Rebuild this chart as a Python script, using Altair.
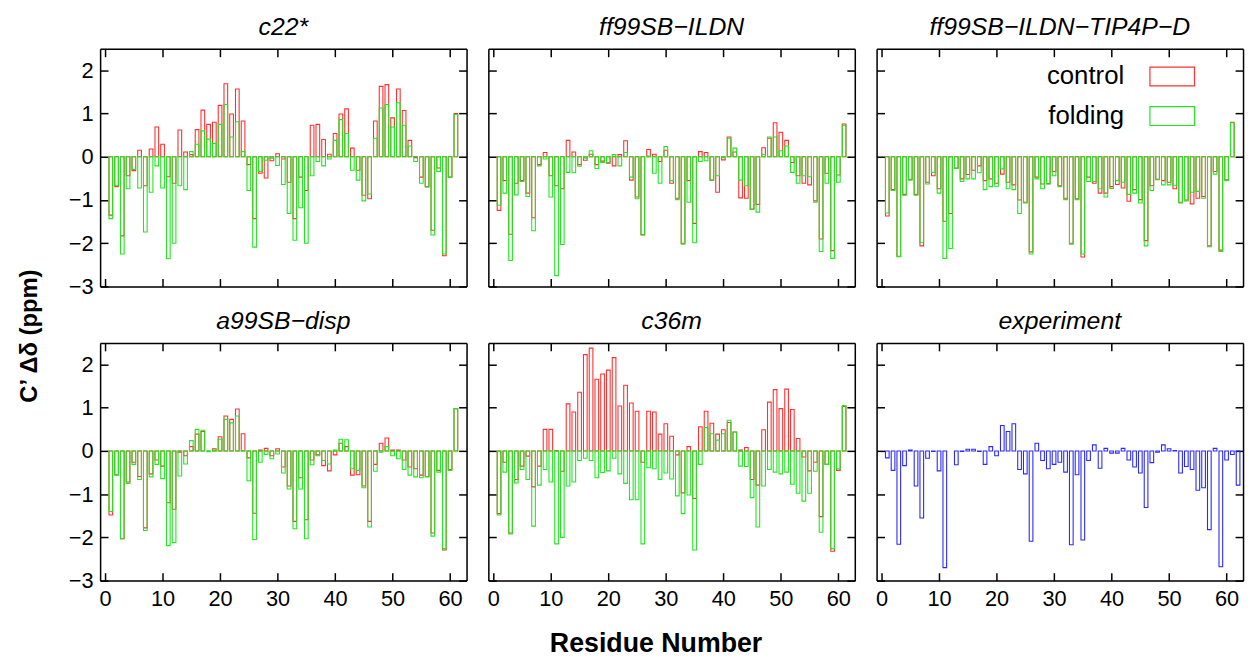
import altair as alt
import pandas as pd

FONT = "Liberation Sans"
RED = "#ff3030"
GREEN = "#22e622"
BLUE = "#2a2aff"

residues = list(range(1, 62))
exp_residues = list(range(1, 63))
x_ticks = [0, 10, 20, 30, 40, 50, 60]
y_ticks = [-3, -2, -1, 0, 1, 2]
series_names = ["control", "folding"]
panel_titles = ["c22*", "ff99SB\u2212ILDN", "ff99SB\u2212ILDN\u2212TIP4P\u2212D",
                "a99SB\u2212disp", "c36m", "experiment"]

c22_control = [-1.35, -0.69, -1.83, -0.44, -0.32, 0.15, -0.67, 0.18, 0.69, 0.29,
               -0.46, -0.61, 0.62, 0.11, 0.05, 0.63, 1.08, 0.75, 0.80, 1.19,
               1.69, 0.99, 1.57, 0.83, -0.18, -1.43, -0.38, -0.49, -0.09, 0.07,
               -0.05, -0.59, -1.43, -0.47, -0.78, 0.73, 0.75, 0.40, 0.06, 0.54,
               0.99, 1.11, 0.20, -0.31, -0.89, -0.97, 0.83, 1.63, 1.67, 0.90,
               1.57, 1.07, 0.38, -0.02, -0.47, -0.69, -1.70, -0.26, -2.29, -0.47, 1.00]
c22_folding = [-1.43, -0.67, -2.25, -0.74, -0.29, -0.72, -1.74, -0.82, -0.21, -0.72,
               -2.36, -2.00, -0.67, -0.76, 0.12, 0.29, 0.60, 0.41, 0.31, 0.75,
               1.21, 0.46, 0.81, 0.12, -0.78, -2.09, -0.34, -0.08, -0.03, -0.20,
               -0.64, -1.31, -1.93, -1.18, -2.00, -0.44, -0.11, -0.21, -0.05, 0.38,
               0.86, 0.54, -0.31, -0.54, -1.02, -0.86, 0.43, 1.13, 1.21, 0.69,
               1.25, 0.73, 0.25, -0.11, -0.61, -0.70, -1.81, -0.34, -2.25, -0.47, 0.98]

ff99_control = [-1.24, -0.55, -1.79, -0.61, -0.55, -0.84, -1.41, -0.18, 0.10, -0.44,
                -0.67, -0.74, 0.38, 0.11, -0.18, -0.08, 0.06, -0.18, -0.10, -0.15,
                -0.21, 0.05, 0.37, -0.54, -0.93, -1.80, 0.17, 0.06, -0.11, 0.15,
                -0.61, -0.96, -2.00, -0.55, -1.54, 0.12, 0.10, -0.54, -0.82, -0.07,
                0.46, 0.11, -0.95, -0.96, -1.21, -1.10, 0.21, 0.43, 0.79, 0.57,
                0.38, -0.13, -0.44, -0.61, -0.65, -1.02, -1.90, -0.38, -2.17, -0.42, 0.76]
ff99_folding = [-1.12, -0.84, -2.40, -0.88, -0.57, -0.92, -1.71, -0.21, -0.05, -0.93,
                -2.75, -2.03, -0.36, -0.37, -0.22, -0.03, 0.14, -0.27, -0.13, -0.13,
                0.05, -0.21, 0.10, -0.47, -0.97, -1.81, 0.02, -0.38, -0.61, 0.24,
                -0.55, -0.99, -2.02, -1.05, -1.99, -0.11, -0.09, -0.54, -0.44, -0.02,
                0.43, 0.20, -0.54, -0.67, -1.22, -1.28, 0.06, 0.46, 0.46, 0.14,
                0.25, -0.36, -0.61, -0.44, -0.46, -1.05, -2.19, -0.61, -2.35, -0.59, 0.73]

tip4p_control = [-1.37, -0.76, -2.30, -0.87, -0.52, -0.87, -2.06, -0.59, -0.44, -0.74,
                 -1.49, -1.31, -0.26, -0.51, -0.41, -0.31, -0.21, -0.55, -0.51, -0.61,
                 -0.40, -0.59, -0.65, -1.00, -1.05, -2.20, -0.47, -0.63, -0.62, -0.34,
                 -0.67, -0.96, -2.00, -0.97, -2.32, -0.47, -0.61, -0.84, -0.84, -0.69,
                 -0.64, -0.72, -1.03, -0.76, -0.99, -1.94, -0.67, -0.52, -0.55, -0.59,
                 -0.74, -1.05, -1.00, -1.09, -0.96, -0.92, -2.06, -0.34, -2.16, -0.53, 0.80]
tip4p_folding = [-1.30, -0.78, -2.31, -0.89, -0.54, -0.89, -1.99, -0.63, -0.36, -0.84,
                 -2.35, -2.12, -0.27, -0.57, -0.51, -0.51, -0.37, -0.76, -0.69, -0.68,
                 -0.28, -0.74, -0.76, -1.31, -1.07, -2.25, -0.51, -0.74, -0.63, -0.44,
                 -0.69, -0.99, -2.02, -0.99, -2.25, -0.57, -0.57, -0.74, -0.93, -0.73,
                 -0.55, -0.59, -0.87, -0.84, -1.07, -2.06, -0.78, -0.53, -0.65, -0.65,
                 -0.67, -1.07, -1.02, -0.82, -0.80, -0.96, -2.08, -0.40, -2.19, -0.55, 0.79]

a99_control = [-1.48, -0.55, -2.03, -0.72, -0.26, -0.59, -1.78, -0.53, -0.21, -0.35,
               -1.20, -1.35, -0.03, -0.11, 0.10, 0.39, 0.45, 0.00, 0.05, 0.33,
               0.81, 0.73, 0.97, 0.40, -0.16, -1.44, 0.02, 0.06, -0.11, 0.05,
               -0.37, -0.81, -1.63, -0.62, -1.59, -0.21, -0.09, -0.34, -0.46, -0.09,
               0.18, 0.10, -0.56, -0.55, -0.81, -1.63, -0.31, 0.18, 0.30, 0.02,
               0.02, -0.21, -0.37, -0.41, -0.56, -0.59, -1.90, -0.45, -2.29, -0.43, 0.98]
a99_folding = [-1.40, -0.56, -2.03, -0.75, -0.31, -0.66, -1.84, -0.60, -0.31, -0.64,
               -2.19, -2.12, -0.58, -0.30, 0.24, 0.50, 0.48, -0.02, 0.02, 0.27,
               0.73, 0.65, 0.81, 0.01, -0.69, -2.05, -0.26, -0.08, -0.18, -0.07,
               -0.51, -0.88, -1.80, -0.88, -2.03, -0.32, -0.11, -0.22, -0.30, 0.02,
               0.27, 0.26, -0.41, -0.45, -0.85, -1.76, -0.47, -0.03, 0.10, -0.11,
               -0.18, -0.43, -0.56, -0.60, -0.62, -0.60, -1.97, -0.49, -2.26, -0.45, 0.98]

c36_control = [-1.45, -0.26, -1.90, -0.66, -0.35, -0.12, -0.83, -0.35, 0.50, 0.50,
               0.01, -0.47, 1.09, 0.90, 1.36, 2.23, 2.38, 1.66, 1.78, 1.87,
               2.16, 1.04, 1.52, 1.11, 0.92, -0.26, 0.92, 0.90, 0.39, 0.63,
               0.34, -0.09, -0.97, 0.10, -1.10, 0.56, 0.92, 0.64, 0.39, 0.49,
               0.66, 0.44, 0.02, 0.08, -0.66, -0.79, 0.49, 1.13, 1.42, 0.98,
               1.43, 0.96, 0.29, -0.14, -0.46, -0.26, -1.52, -0.31, -2.32, -0.45, 1.03]
c36_folding = [-1.48, -0.49, -1.92, -0.74, -0.43, -0.66, -1.74, -0.79, -0.43, -0.72,
               -2.15, -2.00, -0.81, -0.72, -0.22, -0.17, -0.22, -0.62, -0.50, -0.46,
               -0.17, -0.53, -0.75, -1.13, -1.13, -2.15, -0.39, -0.41, -0.66, -0.51,
               -0.65, -1.04, -1.45, -1.02, -2.29, -0.31, 0.54, 0.40, 0.25, 0.40,
               0.71, 0.44, -0.35, -0.36, -1.08, -1.76, -0.81, -0.43, -0.49, -0.53,
               -0.49, -0.77, -0.98, -1.16, -0.98, -0.47, -1.88, -0.31, -2.26, -0.41, 1.05]

experiment = [-0.16, -0.45, -2.16, -0.34, 0.02, -0.81, -1.55, -0.17, -0.01, -0.46,
              -2.70, None, -0.32, -0.01, 0.04, 0.04, -0.01, -0.31, 0.10, -0.11,
              0.59, 0.45, 0.63, -0.43, -0.53, -2.09, 0.18, -0.22, -0.41, -0.31,
              -0.26, -0.49, -2.17, -0.55, -2.06, -0.22, 0.14, -0.40, 0.06, -0.05,
              -0.05, 0.06, -0.21, -0.37, -0.51, -1.31, -0.27, -0.03, 0.14, 0.05,
              0.01, -0.51, -0.36, -0.43, -0.91, -0.85, -1.82, 0.06, -2.68, -0.21,
              -0.08, -0.79]

W, H = 370, 240
XDOM = [0, 62]
YDOM = [-3, 2.5]
TICK = {"expr": "-8"}
TITLE_SIZE = 25


def x_enc(orient, labels):
    return alt.X("residue:Q",
                 scale=alt.Scale(domain=XDOM, nice=False, zero=False),
                 axis=alt.Axis(orient=orient, values=x_ticks, labels=labels, title=None,
                               tickSize=TICK, tickWidth=1.5, tickColor="black",
                               domainColor="black", domainWidth=1.5, grid=False,
                               labelFont=FONT, labelFontSize=22, labelPadding=16,
                               labelColor="black", labelFlush=False, labelOverlap=False))


def y_enc(orient, labels):
    return alt.Y("value:Q",
                 scale=alt.Scale(domain=YDOM, nice=False, zero=False),
                 axis=alt.Axis(orient=orient, values=y_ticks, labels=labels, title=None,
                               tickSize=TICK, tickWidth=1.5, tickColor="black",
                               domainColor="black", domainWidth=1.5, grid=False,
                               labelFont=FONT, labelFontSize=22, labelPadding=15,
                               labelColor="black", labelFlush=False, labelOverlap=False))


def bars(res, vals, color, main, show_x, show_y, opacity=1.0):
    df = pd.DataFrame({"residue": res, "value": vals}).dropna()
    if main:
        xe, ye = x_enc("bottom", show_x), y_enc("left", show_y)
    else:
        xe, ye = x_enc("top", False), y_enc("right", False)
    return alt.Chart(df).mark_bar(filled=False, stroke=color, strokeWidth=1.1, size=3.7,
                                  clip=True, orient="vertical",
                                  strokeOpacity=opacity).encode(x=xe, y=ye)


def legend_layers():
    out = []
    for i, (name, color) in enumerate(zip(series_names, [RED, GREEN])):
        d = pd.DataFrame({"label": [name]})
        out.append(alt.Chart(d).mark_text(align="right", baseline="middle", font=FONT,
                                          fontSize=26, color="black")
                   .encode(text="label:N", x=alt.value(250), y=alt.value(28 + 40 * i)))
        out.append(alt.Chart(d).mark_rect(filled=False, stroke=color, strokeWidth=1.2)
                   .encode(x=alt.value(276), x2=alt.value(321),
                           y=alt.value(18.5 + 40 * i), y2=alt.value(37.5 + 40 * i)))
    return out


def panel_title(text):
    return alt.TitleParams(text, font=FONT, fontSize=TITLE_SIZE, fontStyle="italic",
                           fontWeight="normal", anchor="middle", offset=8, color="black")


def panel(title, control, folding, show_x, show_y, legend=False):
    layers = [bars(residues, control, RED, True, show_x, show_y),
              bars(residues, folding, GREEN, False, show_x, show_y)]
    if legend:
        layers += legend_layers()
    return (alt.layer(*layers)
            .resolve_axis(x="independent", y="independent")
            .properties(width=W, height=H, title=panel_title(title)))


def exp_panel(title):
    layers = [bars(exp_residues, experiment, BLUE, True, True, False),
              bars(exp_residues, experiment, BLUE, False, True, False, opacity=0.0)]
    return (alt.layer(*layers)
            .resolve_axis(x="independent", y="independent")
            .properties(width=W, height=H, title=panel_title(title)))


row1 = alt.hconcat(
    panel(panel_titles[0], c22_control, c22_folding, False, True),
    panel(panel_titles[1], ff99_control, ff99_folding, False, False),
    panel(panel_titles[2], tip4p_control, tip4p_folding, False, False, legend=True),
    spacing=18)
row2 = alt.hconcat(
    panel(panel_titles[3], a99_control, a99_folding, True, True),
    panel(panel_titles[4], c36_control, c36_folding, True, False),
    exp_panel(panel_titles[5]),
    spacing=18)

grid = alt.vconcat(row1, row2, spacing=10).properties(
    title=alt.TitleParams("Residue Number", orient="bottom", anchor="middle", font=FONT,
                          fontSize=27, fontWeight="bold", offset=22, color="black"))

chart = alt.hconcat(grid).properties(
    title=alt.TitleParams("C\u2019 \u0394\u03b4 (ppm)", orient="left", anchor="middle", font=FONT,
                          fontSize=24, fontWeight="bold", offset=26, color="black"),
    padding={"left": 10, "top": 3, "right": 2, "bottom": 0},
).configure_view(stroke="transparent").configure(font=FONT)

chart.save("out.html", embed_options={"renderer": "svg", "actions": False})
